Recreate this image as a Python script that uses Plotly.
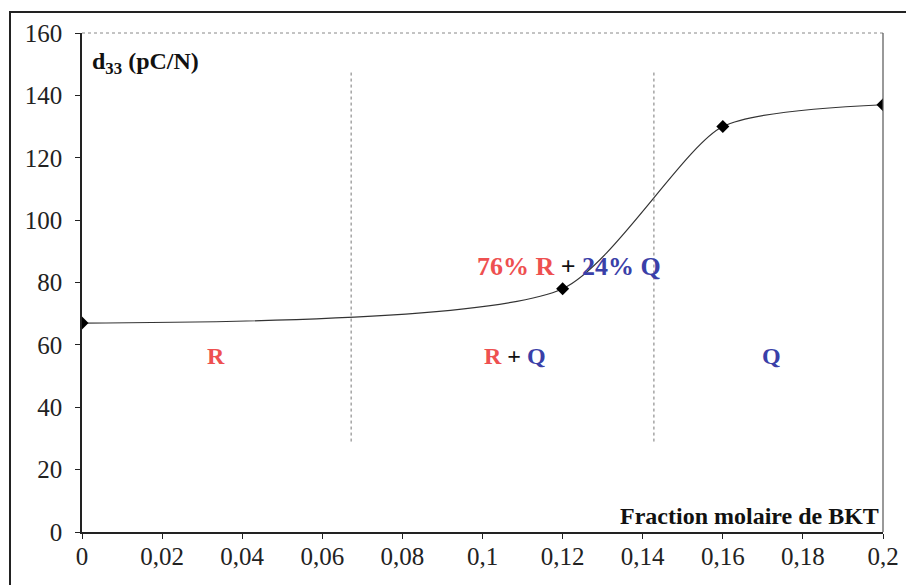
import plotly.graph_objects as go

# Data
x_frac = [0, 0.12, 0.16, 0.2]
d33 = [67, 78, 130, 137]
x_tickvals = [0, 0.02, 0.04, 0.06, 0.08, 0.1, 0.12, 0.14, 0.16, 0.18, 0.2]
x_ticktext = ["0", "0,02", "0,04", "0,06", "0,08", "0,1", "0,12", "0,14", "0,16", "0,18", "0,2"]
y_tickvals = [0, 20, 40, 60, 80, 100, 120, 140, 160]
boundaries = [0.0672, 0.1428]
boundary_y = [29, 147.5]

RED = "#EE5050"
BLUE = "#3A3FA8"
FONT = "Liberation Serif"

W, H = 906, 585
ML, MR, MT, MB = 82, 23, 33, 53
PW = W - ML - MR
PH = H - MT - MB

fig = go.Figure()
fig.add_trace(go.Scatter(
    x=x_frac, y=d33, mode="lines+markers",
    line=dict(color="#333333", width=1.2, shape="spline", smoothing=0.65),
    marker=dict(symbol="diamond", size=10, color="black"),
    showlegend=False, hoverinfo="skip",
))

shapes = []
for b in boundaries:
    shapes.append(dict(type="line", xref="x", yref="y", x0=b, x1=b,
                       y0=boundary_y[0], y1=boundary_y[1],
                       line=dict(color="#777777", width=1, dash="dot")))
# top & right plot border
shapes.append(dict(type="line", xref="paper", yref="paper", x0=0, x1=1, y0=1, y1=1,
                   line=dict(color="#888888", width=1, dash="dot")))
shapes.append(dict(type="line", xref="paper", yref="paper", x0=1, x1=1, y0=0, y1=1,
                   line=dict(color="#555555", width=1.2)))
# outer frame (left at x=10, top at y=12, clipped right/bottom)
shapes.append(dict(type="rect", xref="paper", yref="paper",
                   x0=(10 - ML) / PW, x1=(W + 10 - ML) / PW,
                   y0=-(MB + 10) / PH, y1=(PH + MT - 12) / PH,
                   line=dict(color="#222222", width=2), layer="below"))

annotations = [
    dict(x=0.0, y=150.5, xref="x", yref="y", xanchor="left", yanchor="middle", xshift=8,
         text="<b>d<sub>33</sub> (pC/N)</b>", showarrow=False,
         font=dict(family=FONT, size=24, color="#111111")),
    dict(x=0.2, y=0, xref="x", yref="y", xanchor="right", yanchor="bottom",
         xshift=-2, yshift=1,
         text="<b>Fraction molaire de BKT</b>", showarrow=False,
         font=dict(family=FONT, size=24, color="#111111")),
    dict(x=0.0335, y=56.5, xref="x", yref="y", text="<b>R</b>", showarrow=False,
         font=dict(family=FONT, size=24, color=RED)),
    dict(x=0.108, y=56.5, xref="x", yref="y",
         text=f"<b><span style='color:{RED}'>R</span> + <span style='color:{BLUE}'>Q</span></b>",
         showarrow=False, font=dict(family=FONT, size=24, color="#111111")),
    dict(x=0.1722, y=56.5, xref="x", yref="y", text="<b>Q</b>", showarrow=False,
         font=dict(family=FONT, size=24, color=BLUE)),
    dict(x=0.1215, y=85, xref="x", yref="y",
         text=f"<b><span style='color:{RED}'>76% R</span> + <span style='color:{BLUE}'>24% Q</span></b>",
         showarrow=False, font=dict(family=FONT, size=26, color="#111111")),
]

fig.update_layout(
    width=W, height=H, autosize=False,
    margin=dict(l=ML, r=MR, t=MT, b=MB, autoexpand=False),
    paper_bgcolor="white", plot_bgcolor="white",
    shapes=shapes, annotations=annotations,
    font=dict(family=FONT, size=22, color="#222222"),
    xaxis=dict(range=[0, 0.2], tickvals=x_tickvals, ticktext=x_ticktext,
               automargin=False,
               showgrid=False, zeroline=False, showline=True, linecolor="#222222",
               linewidth=1.5, ticks="outside", ticklen=5, tickcolor="#222222",
               ticklabelstandoff=-4,
               tickfont=dict(family=FONT, size=25, color="#222222")),
    yaxis=dict(range=[0, 160], tickvals=y_tickvals,
               automargin=False,
               showgrid=False, zeroline=False, showline=True, linecolor="#222222",
               linewidth=1.5, ticks="outside", ticklen=5, tickcolor="#222222",
               ticklabelstandoff=8,
               tickfont=dict(family=FONT, size=25, color="#222222")),
)

fig.write_html(
    "out.html",
    config={"displayModeBar": False, "responsive": False},
    post_script="document.body.style.margin='0';document.body.style.overflow='hidden';",
)
